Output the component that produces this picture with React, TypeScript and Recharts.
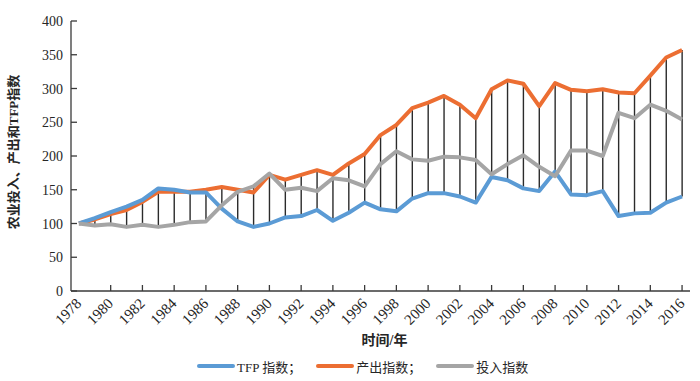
import React from "react"
import {
  Bar,
  ComposedChart,
  Legend,
  Line,
  XAxis,
  YAxis,
} from "recharts"

const years = [
  1978, 1979, 1980, 1981, 1982, 1983, 1984, 1985, 1986, 1987,
  1988, 1989, 1990, 1991, 1992, 1993, 1994, 1995, 1996, 1997,
  1998, 1999, 2000, 2001, 2002, 2003, 2004, 2005, 2006, 2007,
  2008, 2009, 2010, 2011, 2012, 2013, 2014, 2015, 2016,
]

// TFP 指数
const tfp = [
  100, 108, 117, 125, 135, 152, 150, 146, 146, 122,
  103, 95, 100, 109, 111, 120, 104, 116, 131, 121,
  118, 137, 145, 145, 140, 131, 169, 164, 152, 148,
  177, 143, 142, 148, 111, 115, 116, 131, 140,
]

// 产出指数
const output = [
  100, 106, 114, 120, 132, 147, 147, 147, 150, 154,
  150, 146, 172, 165, 172, 179, 172, 189, 203, 231,
  246, 271, 279, 289, 276, 256, 299, 312, 307, 274,
  308, 298, 296, 299, 294, 293, 319, 346, 357,
]

// 投入指数
const input = [
  100, 97, 99, 95, 98, 95, 98, 102, 103, 127,
  147, 155, 174, 150, 153, 148, 167, 164, 155, 188,
  207, 195, 193, 199, 198, 194, 173, 188, 201, 184,
  170, 208, 208, 200, 264, 256, 276, 267, 254,
]

const yTicks = [0, 50, 100, 150, 200, 250, 300, 350, 400]

const data = years.map((year, i) => ({
  year,
  tfp: tfp[i],
  output: output[i],
  input: input[i],
  range: [
    Math.min(tfp[i], output[i], input[i]),
    Math.max(tfp[i], output[i], input[i]),
  ],
}))

const FONT = '"Liberation Serif", "Noto Sans CJK SC", serif'
const AXIS = "#3a3a3a"
const TEXT = "#262626"

const YearTick = (props: any) => {
  const { x, y, payload } = props
  const tx = x + 1
  const ty = y + 11
  return (
    <g>
      {payload.value !== years[0] && (
        <line x1={x} x2={x} y1={y} y2={y - 6} stroke={AXIS} strokeWidth={1.3} />
      )}
      <text
        x={tx}
        y={ty}
        textAnchor="end"
        dominantBaseline="middle"
        transform={`rotate(-45 ${tx} ${ty})`}
        fontFamily={FONT}
        fontSize={15}
        fill={TEXT}
      >
        {payload.value}
      </text>
    </g>
  )
}

const ValueTick = (props: any) => {
  const { x, y, payload } = props
  return (
    <g>
      <line x1={x} x2={x + 6} y1={y} y2={y} stroke={AXIS} strokeWidth={1.3} />
      <text
        x={x - 8}
        y={y}
        dy={5}
        textAnchor="end"
        fontFamily={FONT}
        fontSize={14}
        fill={TEXT}
      >
        {payload.value}
      </text>
    </g>
  )
}

const HighLow = (props: any) => {
  const { x, y, width, height } = props
  if (height == null || isNaN(height)) return null
  const cx = x + width / 2
  return <line x1={cx} x2={cx} y1={y} y2={y + height} stroke="#2b2b2b" strokeWidth={1.4} />
}

const renderLegend = (props: any) => {
  const items = (props.payload || []).filter((p: any) => p.type !== "none")
  return (
    <div
      style={{
        display: "flex",
        alignItems: "center",
        height: 30,
        paddingLeft: 197,
        fontFamily: FONT,
        fontSize: 13,
        color: TEXT,
      }}
    >
      {items.map((p: any) => (
        <div key={p.value} style={{ display: "flex", alignItems: "center", marginRight: 15 }}>
          <span
            style={{
              display: "inline-block",
              width: 38,
              height: 4,
              borderRadius: 2,
              background: p.color,
              marginRight: 2,
            }}
          />
          <span>{p.value}</span>
        </div>
      ))}
    </div>
  )
}

const YLabel = (props: any) => {
  const cy = props.viewBox.y + props.viewBox.height / 2 - 4
  return (
    <text
      x={15}
      y={cy}
      textAnchor="middle"
      dominantBaseline="middle"
      transform={`rotate(-90 15 ${cy})`}
      fontFamily={FONT}
      fontSize={13}
      fontWeight="bold"
      fill={TEXT}
    >
      农业投入、产出和TFP指数
    </text>
  )
}

const XLabel = (props: any) => {
  const cx = props.viewBox.x + props.viewBox.width / 2 + 4
  return (
    <text
      x={cx}
      y={342}
      textAnchor="middle"
      dominantBaseline="middle"
      fontFamily={FONT}
      fontSize={14}
      fontWeight="bold"
      fill={TEXT}
    >
      时间/年
    </text>
  )
}

export default function App() {
  return (
    <div style={{ position: "absolute", left: 0, top: 0, background: "#fff" }}>
      <ComposedChart
        width={700}
        height={381}
        data={data}
        margin={{ top: 21, right: 10, bottom: 0, left: 0 }}
      >
        <XAxis
          dataKey="year"
          interval={1}
          height={60}
          tickSize={0}
          tickMargin={0}
          tick={<YearTick />}
          stroke={AXIS}
          strokeWidth={1.3}
          label={<XLabel />}
        />
        <YAxis
          width={71}
          domain={[0, 400]}
          ticks={yTicks}
          tickSize={0}
          tickMargin={0}
          tick={<ValueTick />}
          stroke={AXIS}
          strokeWidth={1.3}
          label={<YLabel />}
        />
        <Legend
          verticalAlign="bottom"
          height={30}
          content={renderLegend}
          wrapperStyle={{ left: 0, width: 700 }}
        />
        <Line
          type="linear"
          dataKey="output"
          name="产出指数；"
          stroke="#EC6E32"
          strokeWidth={4}
          strokeLinejoin="round"
          dot={false}
          activeDot={false}
          isAnimationActive={false}
        />
        <Line
          type="linear"
          dataKey="tfp"
          name="TFP 指数；"
          stroke="#5B9BD5"
          strokeWidth={4}
          strokeLinejoin="round"
          dot={false}
          activeDot={false}
          isAnimationActive={false}
        />
        <Line
          type="linear"
          dataKey="input"
          name="投入指数"
          stroke="#A5A5A5"
          strokeWidth={4}
          strokeLinejoin="round"
          dot={false}
          activeDot={false}
          isAnimationActive={false}
        />
        <Bar
          dataKey="range"
          legendType="none"
          barSize={4}
          shape={<HighLow />}
          isAnimationActive={false}
        />
      </ComposedChart>
    </div>
  )
}
